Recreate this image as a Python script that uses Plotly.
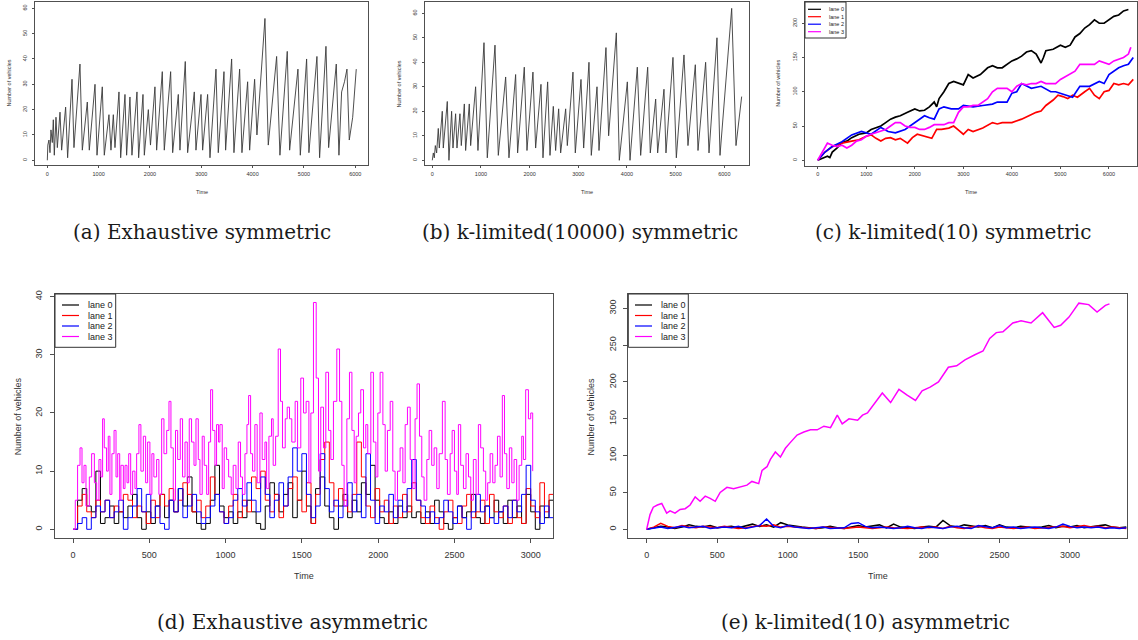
import plotly.graph_objects as go

# ---------------- data ----------------
# (a) Exhaustive symmetric : single series (time, number of vehicles)
A_TIME = [0, 10, 32, 52, 71, 97, 117, 136, 169, 195, 247, 279, 357, 396, 481, 519, 636, 682, 779, 818,
          929, 968, 1071, 1110, 1201, 1240, 1286, 1318, 1396, 1429, 1513, 1545, 1610, 1649, 1747, 1779,
          1864, 1890, 1968, 2010, 2097, 2130, 2240, 2279, 2403, 2442, 2552, 2584, 2688, 2734, 2864, 2896,
          2994, 3026, 3123, 3169, 3286, 3331, 3442, 3474, 3591, 3636, 3747, 3792, 3903, 3942, 4039, 4084,
          4240, 4305, 4468, 4532, 4675, 4721, 4883, 4929, 5052, 5097, 5253, 5305, 5429, 5481, 5630, 5682,
          5734, 5790, 5838, 5883, 5950, 6019]
A_VEH = [0, 6, 8, 3, 12, 7, 16, 2, 17, 5, 19, 4, 21, 1, 32, 5, 38, 4, 23, 4,
         30, 2, 29, 2, 18, 4, 18, 5, 27, 1, 26, 2, 25, 2, 27, 1,
         26, 2, 20, 6, 29, 4, 35, 4, 35, 3, 26, 4, 39, 3, 27, 4,
         26, 4, 26, 1, 36, 3, 35, 4, 40, 3, 36, 3, 31, 4, 32, 10,
         56, 6, 41, 2, 43, 4, 36, 2, 40, 3, 41, 1, 45, 5, 38, 2,
         27, 31, 36, 8, 17, 36]

# (b) k-limited(10000) symmetric
B_TIME = [0, 21, 41, 62, 89, 123, 144, 205, 226, 308, 342, 397, 425, 479, 507, 568, 596, 658, 685, 760,
          788, 890, 938, 1062, 1130, 1288, 1356, 1507, 1575, 1712, 1753, 1890, 1945, 2068, 2123, 2233,
          2274, 2370, 2418, 2486, 2534, 2596, 2637, 2740, 2774, 2890, 2938, 3055, 3110, 3219, 3267, 3384,
          3425, 3568, 3623, 3781, 3842, 4007, 4062, 4212, 4281, 4425, 4479, 4589, 4630, 4760, 4801, 4945,
          5014, 5171, 5253, 5404, 5459, 5616, 5685, 5849, 5911, 6151, 6240, 6356]
B_VEH = [0, 3, 1, 6, 3, 13, 5, 20, 5, 24, 0, 20, 5, 19, 5, 19, 6, 23, 4, 23,
         6, 30, 4, 48, 1, 47, 2, 34, 1, 35, 3, 38, 4, 36, 5, 31,
         1, 32, 2, 22, 4, 21, 3, 21, 6, 36, 3, 33, 5, 40, 2, 30,
         4, 46, 10, 52, 0, 32, 0, 38, 2, 38, 3, 25, 3, 29, 3, 42,
         1, 43, 6, 39, 4, 40, 3, 50, 2, 62, 6, 26]

# (c) k-limited(10) symmetric : four lanes
C_T0 = [0, 100, 200, 250, 300, 400, 500, 600, 700, 850, 1000, 1100, 1200, 1300, 1400, 1500, 1600, 1700,
        1850, 2000, 2100, 2200, 2300, 2400, 2450, 2500, 2600, 2700, 2800, 2900, 3000, 3100, 3200, 3350,
        3500, 3600, 3700, 3800, 3900, 4000, 4100, 4200, 4300, 4400, 4500, 4600, 4650, 4700, 4850, 5000,
        5100, 5200, 5300, 5400, 5500, 5600, 5700, 5800, 5900, 6000, 6100, 6200, 6300, 6400]
C_V0 = [0, 3, 6, 4, 12, 18, 26, 28, 33, 38, 40, 45, 48, 50, 55, 60, 63, 65,
        70, 75, 72, 73, 78, 85, 78, 90, 100, 112, 115, 112, 110, 125, 120, 125,
        135, 138, 135, 135, 140, 145, 148, 152, 158, 160, 155, 142, 150, 160, 162, 168,
        165, 168, 180, 185, 193, 198, 205, 200, 200, 205, 210, 212, 218, 220]
C_T1 = [0, 150, 300, 500, 700, 850, 1000, 1100, 1200, 1300, 1400, 1500, 1600, 1700, 1850, 1950, 2050,
        2200, 2350, 2450, 2550, 2700, 2800, 2900, 3000, 3100, 3200, 3400, 3600, 3700, 3800, 4000, 4200,
        4350, 4500, 4600, 4700, 4850, 4950, 5050, 5150, 5250, 5350, 5500, 5600, 5700, 5800, 5900, 6000,
        6100, 6200, 6300, 6400, 6500]
C_V1 = [0, 12, 20, 25, 28, 30, 35, 37, 32, 28, 32, 33, 30, 32, 25, 33, 38,
        35, 32, 45, 45, 47, 50, 44, 38, 45, 42, 47, 55, 53, 55, 55, 60,
        65, 70, 72, 80, 88, 95, 93, 90, 95, 92, 100, 105, 95, 90, 100, 102,
        112, 110, 112, 110, 118]
C_T2 = [0, 150, 300, 500, 700, 900, 1100, 1300, 1450, 1600, 1800, 2000, 2100, 2200, 2300, 2400, 2500,
        2600, 2750, 2900, 3000, 3200, 3400, 3600, 3700, 3900, 4000, 4100, 4200, 4300, 4400, 4600, 4800,
        4900, 5000, 5100, 5250, 5400, 5600, 5800, 5900, 6000, 6100, 6200, 6300, 6400, 6500]
C_V2 = [0, 12, 20, 27, 37, 42, 38, 48, 42, 40, 45, 55, 60, 65, 62, 60, 75,
        78, 75, 75, 80, 78, 80, 82, 85, 85, 98, 100, 112, 108, 105, 108, 100,
        100, 98, 95, 92, 108, 108, 115, 112, 125, 130, 135, 138, 140, 150]
C_T3 = [0, 100, 200, 300, 400, 500, 600, 700, 800, 900, 1000, 1100, 1200, 1300, 1400, 1500, 1600, 1700,
        1800, 1900, 2000, 2100, 2200, 2300, 2400, 2500, 2600, 2700, 2800, 2900, 3000, 3100, 3200, 3300,
        3400, 3500, 3600, 3700, 3800, 3900, 4000, 4100, 4200, 4300, 4400, 4500, 4600, 4700, 4800, 4900,
        5000, 5100, 5200, 5300, 5400, 5500, 5600, 5700, 5800, 5900, 6000, 6100, 6200, 6300, 6400, 6450]
C_V3 = [0, 12, 25, 22, 20, 22, 18, 22, 28, 30, 35, 38, 40, 43, 45, 50, 55, 55,
        50, 48, 48, 45, 45, 48, 52, 52, 52, 55, 55, 70, 78, 78, 80, 80,
        85, 90, 100, 105, 105, 105, 100, 108, 112, 110, 112, 112, 115, 112, 112, 112,
        118, 122, 125, 130, 140, 140, 140, 140, 145, 142, 140, 145, 148, 150, 155, 165]

# (d) Exhaustive asymmetric : lanes 0-2 sampled every 30 time units, lane 3 at its turning points
D_GRID = list(range(0, 3151, 30))
D_V0 = [0, 5, 7, 4, 3, 10, 1, 2, 4, 1, 3, 2, 4, 6, 2, 0, 3, 1, 4, 6,
        2, 5, 3, 7, 4, 9, 3, 1, 0, 1, 5, 11, 4, 2, 3, 1, 3, 2, 5, 3,
        1, 0, 4, 8, 6, 3, 6, 8, 2, 5, 10, 4, 1, 7, 9, 4, 2, 0, 4, 6,
        2, 5, 3, 8, 6, 11, 5, 2, 1, 3, 1, 4, 2, 4, 2, 3, 1, 3, 1, 5,
        3, 1, 0, 2, 4, 2, 3, 6, 2, 1, 4, 2, 5, 3, 1, 5, 2, 4, 1, 6,
        3, 0, 4, 2, 5, 3]
D_V1 = [0, 4, 6, 3, 2, 5, 3, 5, 2, 4, 3, 6, 5, 2, 4, 3, 1, 5, 2, 6,
        4, 7, 3, 5, 8, 6, 3, 5, 2, 4, 9, 6, 3, 1, 4, 6, 2, 5, 3, 9,
        7, 10, 5, 3, 6, 2, 4, 7, 9, 5, 3, 8, 1, 6, 12, 15, 8, 4, 7, 5,
        3, 6, 15, 9, 4, 2, 7, 3, 5, 1, 4, 2, 6, 3, 8, 5, 2, 1, 4, 2,
        0, 3, 5, 2, 1, 4, 6, 2, 3, 5, 1, 6, 3, 2, 4, 1, 5, 2, 1, 7,
        4, 2, 8, 3, 6, 5]
D_V2 = [0, 1, 2, 0, 2, 4, 3, 5, 2, 3, 5, 0, 2, 4, 7, 3, 6, 2, 4, 1,
        0, 5, 3, 7, 2, 4, 6, 3, 1, 2, 4, 6, 3, 1, 2, 5, 7, 4, 8, 5,
        3, 9, 6, 2, 5, 8, 4, 9, 14, 10, 13, 6, 2, 4, 13, 7, 3, 5, 2, 4,
        8, 3, 6, 2, 13, 5, 1, 4, 3, 6, 2, 5, 3, 7, 12, 5, 4, 2, 3, 1,
        2, 5, 3, 1, 4, 2, 0, 3, 6, 3, 4, 2, 1, 3, 4, 2, 5, 3, 6, 11,
        5, 3, 1, 4, 2, 0]
D_T3 = [0, 15, 30, 46, 59, 72, 85, 107, 122, 140, 155, 170, 183, 194, 205, 220, 231, 242, 255, 269,
        282, 293, 306, 314, 330, 341, 354, 365, 378, 391, 406, 417, 432, 445, 461, 476, 489, 504, 517, 530,
        548, 563, 581, 596, 614, 629, 642, 657, 672, 686, 703, 718, 734, 749, 762, 777, 793, 806, 821, 832,
        847, 860, 876, 889, 902, 915, 930, 941, 954, 963, 978, 991, 1007, 1020, 1037, 1050, 1068, 1083, 1098, 1111,
        1127, 1140, 1151, 1164, 1177, 1192, 1207, 1225, 1240, 1258, 1269, 1284, 1301, 1312, 1328, 1345, 1360, 1373, 1391, 1404,
        1419, 1434, 1456, 1472, 1493, 1511, 1528, 1546, 1559, 1576, 1594, 1609, 1624, 1642, 1657, 1675, 1690, 1707, 1729, 1747,
        1762, 1777, 1795, 1812, 1828, 1843, 1856, 1871, 1886, 1904, 1919, 1932, 1952, 1969, 1985, 1998, 2013, 2031, 2046, 2061,
        2079, 2096, 2111, 2127, 2144, 2162, 2177, 2192, 2210, 2227, 2242, 2255, 2271, 2286, 2301, 2319, 2334, 2351, 2367, 2384,
        2400, 2421, 2439, 2454, 2472, 2485, 2500, 2515, 2526, 2541, 2559, 2576, 2592, 2607, 2624, 2642, 2657, 2672, 2690, 2705,
        2718, 2734, 2751, 2766, 2782, 2799, 2814, 2828, 2843, 2860, 2876, 2891, 2908, 2924, 2941, 2952, 2967, 2985, 3000, 3013]
D_V3 = [0, 5, 11, 14, 8, 11, 4, 9, 13, 8, 5, 12, 9, 19, 14, 10, 16, 6, 13, 17,
        9, 13, 5, 11, 7, 11, 8, 13, 6, 10, 7, 13, 18, 10, 16, 8, 15, 6, 13, 9,
        12, 6, 19, 13, 17, 22, 14, 5, 17, 12, 19, 9, 15, 8, 19, 15, 11, 19, 12, 6,
        16, 11, 6, 15, 24, 17, 11, 18, 15, 18, 7, 14, 12, 9, 6, 11, 7, 15, 9, 6,
        13, 18, 23, 13, 10, 18, 8, 20, 12, 15, 7, 16, 19, 11, 16, 31, 22, 14, 19, 21,
        19, 15, 22, 14, 26, 20, 22, 8, 20, 39, 26, 10, 21, 14, 27, 17, 12, 22, 31, 22,
        11, 4, 19, 27, 17, 8, 16, 20, 24, 14, 18, 13, 27, 15, 9, 20, 27, 18, 10, 17,
        22, 10, 5, 10, 14, 8, 18, 21, 12, 7, 19, 25, 16, 9, 5, 12, 17, 11, 14, 7,
        13, 22, 12, 6, 13, 17, 10, 6, 18, 11, 7, 13, 9, 5, 12, 6, 18, 14, 10, 5,
        8, 13, 8, 11, 16, 9, 23, 13, 7, 14, 8, 12, 5, 11, 16, 12, 24, 19, 20, 10]

# (e) k-limited(10) asymmetric
E_GRID = list(range(0, 3401, 50))
E_V0 = [0, 2, 4, 3, 1, 3, 6, 4, 3, 5, 2, 3, 4, 2, 5, 7, 4, 6, 3, 9,
        6, 4, 3, 2, 1, 2, 4, 2, 1, 3, 5, 3, 4, 6, 2, 7, 3, 2, 1, 3,
        4, 3, 12, 5, 3, 6, 4, 3, 5, 2, 6, 3, 2, 4, 3, 2, 3, 5, 2, 4,
        3, 5, 2, 3, 5, 6, 3, 2, 3]
E_V1 = [0, 3, 8, 4, 2, 5, 3, 2, 4, 3, 2, 4, 3, 1, 2, 3, 5, 4, 6, 3,
        4, 3, 2, 2, 1, 3, 2, 1, 1, 2, 3, 2, 1, 2, 3, 2, 1, 1, 2, 3,
        2, 3, 1, 4, 2, 1, 3, 4, 2, 1, 3, 2, 1, 2, 3, 1, 2, 2, 3, 4,
        2, 3, 5, 3, 4, 2, 3, 2, 1]
E_V2 = [0, 2, 3, 1, 2, 4, 2, 3, 4, 1, 2, 3, 2, 4, 1, 3, 5, 14, 4, 2,
        5, 3, 2, 1, 2, 3, 1, 2, 2, 8, 9, 4, 2, 3, 2, 1, 2, 4, 2, 1,
        3, 2, 1, 3, 4, 2, 1, 5, 3, 2, 5, 2, 3, 1, 2, 3, 2, 1, 3, 7,
        4, 2, 3, 2, 3, 1, 2, 1, 2]
E_T3 = [0, 24, 47, 76, 107, 142, 166, 201, 237, 273, 308, 344, 379, 415, 450, 486, 521, 569, 616, 664,
        711, 746, 794, 818, 853, 877, 912, 948, 983, 1019, 1066, 1114, 1161, 1209, 1256, 1303, 1351, 1386,
        1434, 1495, 1530, 1565, 1612, 1670, 1729, 1788, 1846, 1905, 1952, 2009, 2068, 2138, 2197, 2256,
        2326, 2384, 2431, 2478, 2525, 2595, 2653, 2724, 2806, 2852, 2888, 2934, 2993, 3063, 3133, 3192,
        3251, 3280]
E_V3 = [0, 20, 30, 33, 35, 22, 25, 22, 27, 28, 33, 44, 38, 45, 42, 38, 50, 57, 55, 58,
        60, 65, 62, 80, 85, 95, 105, 98, 110, 118, 128, 132, 135, 135, 140, 138, 155, 143,
        150, 148, 155, 158, 170, 185, 172, 190, 182, 175, 188, 193, 200, 220, 222, 230,
        237, 242, 259, 267, 268, 280, 283, 280, 294, 282, 274, 277, 288, 307, 305, 295,
        304, 306]

LANE_NAMES = ["lane 0", "lane 1", "lane 2", "lane 3"]
CAPTIONS = ["(a) Exhaustive symmetric", "(b) k-limited(10000) symmetric", "(c) k-limited(10) symmetric",
            "(d) Exhaustive asymmetric", "(e) k-limited(10) asymmetric"]
X_TICKS_6000 = [0, 1000, 2000, 3000, 4000, 5000, 6000]
X_TICKS_3000 = [0, 500, 1000, 1500, 2000, 2500, 3000]
Y_TICKS_60 = [0, 10, 20, 30, 40, 50, 60]
Y_TICKS_200 = [0, 50, 100, 150, 200]
Y_TICKS_40 = [0, 10, 20, 30, 40]
Y_TICKS_300 = [0, 50, 100, 150, 200, 250, 300]

# ---------------- styling / layout ----------------
W, H = 1138, 640
LANE_COLORS = ["#000000", "#ff0000", "#0000ff", "#ff00ff"]
SANS = "Liberation Sans, Arial, sans-serif"
SERIF = "DejaVu Serif, serif"
FRAME = "#505050"


def fx(p):
    return p / W


def fy(p):
    return 1 - p / H


# frame in pixels (left, top, right, bottom), ranges, ticks, font size, tick length
PANELS = [
    dict(frame=(35, 2, 368, 165), xr=[-240, 6248], yr=[-1.86, 62.5], xt=X_TICKS_6000, yt=Y_TICKS_60, fs=5.5, tl=2),
    dict(frame=(425, 2, 749.3, 165), xr=[-150, 6513], yr=[-1.92, 64.6], xt=X_TICKS_6000, yt=Y_TICKS_60, fs=5.5, tl=2),
    dict(frame=(805, 2, 1137, 165.7), xr=[-262, 6577], yr=[-7.9, 231], xt=X_TICKS_6000, yt=Y_TICKS_200, fs=5.5, tl=2),
    dict(frame=(55, 294, 553.3, 538.3), xr=[-118, 3148], yr=[-1.55, 40.46], xt=X_TICKS_3000, yt=Y_TICKS_40, fs=9, tl=4),
    dict(frame=(628.3, 294, 1126.7, 538.3), xr=[-130, 3402], yr=[-12.2, 319.4], xt=X_TICKS_3000, yt=Y_TICKS_300, fs=9, tl=4),
]

fig = go.Figure()


def add_line(i, x, y, color, width, shape="linear", name=None):
    sfx = "" if i == 0 else str(i + 1)
    fig.add_trace(go.Scatter(x=x, y=y, mode="lines", name=name, showlegend=False,
                             line=dict(color=color, width=width, shape=shape),
                             xaxis="x" + sfx, yaxis="y" + sfx, hoverinfo="skip"))


add_line(0, A_TIME, A_VEH, "#3a3a3a", 0.9)
add_line(1, B_TIME, B_VEH, "#3a3a3a", 0.9)
for (t, v), c, n in zip([(C_T0, C_V0), (C_T1, C_V1), (C_T2, C_V2), (C_T3, C_V3)], LANE_COLORS, LANE_NAMES):
    add_line(2, t, v, c, 1.7, name=n)
for (t, v), c, n in zip([(D_GRID, D_V0), (D_GRID, D_V1), (D_GRID, D_V2), (D_T3, D_V3)], LANE_COLORS, LANE_NAMES):
    add_line(3, t, v, c, 1.0, shape="hv", name=n)
for (t, v), c, n in zip([(E_GRID, E_V0), (E_GRID, E_V1), (E_GRID, E_V2), (E_T3, E_V3)], LANE_COLORS, LANE_NAMES):
    add_line(4, t, v, c, 1.5, name=n)

layout = dict(width=W, height=H, margin=dict(l=0, r=0, t=0, b=0, autoexpand=False), autosize=False,
              paper_bgcolor="white", plot_bgcolor="white", showlegend=False, template="none")
annotations = []
shapes = []

for i, p in enumerate(PANELS):
    l, t, r, b = p["frame"]
    sfx = "" if i == 0 else str(i + 1)
    font = dict(family=SANS, size=p["fs"], color="#333333")
    common = dict(showline=True, mirror=True, linecolor=FRAME, linewidth=1, showgrid=False,
                  zeroline=False, ticks="outside", ticklen=p["tl"], tickwidth=1, tickcolor=FRAME,
                  tickfont=font, fixedrange=True, automargin=False)
    layout["xaxis" + sfx] = dict(domain=[fx(l), fx(r)], range=p["xr"], anchor="y" + sfx,
                                 tickmode="array", tickvals=p["xt"], ticklabelstandoff=1 if i < 3 else 4,
                                 **common)
    layout["yaxis" + sfx] = dict(domain=[fy(b), fy(t)], range=p["yr"], anchor="x" + sfx,
                                 tickmode="array", tickvals=p["yt"], tickangle=-90,
                                 ticklabelstandoff=3 if i < 3 else 4, **common)
    # axis titles
    small = i < 3
    annotations.append(dict(text="Time", xref="paper", yref="paper", x=fx((l + r) / 2),
                            y=fy(192 if small else 576), showarrow=False,
                            font=dict(family=SANS, size=p["fs"], color="#333333"),
                            xanchor="center", yanchor="middle"))
    annotations.append(dict(text="Number of vehicles", xref="paper", yref="paper",
                            x=fx(l - (27 if small else 37)), y=fy((t + b) / 2), showarrow=False, textangle=-90,
                            font=dict(family=SANS, size=p["fs"], color="#333333"),
                            xanchor="center", yanchor="middle"))

# captions
CAP_POS = [(202, 232), (580, 232), (953, 232), (293, 622), (866, 622)]
for txt, (cx, cy) in zip(CAPTIONS, CAP_POS):
    annotations.append(dict(text=txt, xref="paper", yref="paper", x=fx(cx), y=fy(cy), showarrow=False,
                            font=dict(family=SERIF, size=20, color="#1a1a1a"),
                            xanchor="center", yanchor="middle"))

# hand-drawn R-style legends (box, line samples, labels)
LEGENDS = [
    dict(box=(805, 2, 846, 38), lx=(808, 821), tx=826.5, rows=[9.3, 16.7, 24.2, 31.7], fs=5.5),
    dict(box=(55, 294, 115.7, 347.3), lx=(62, 79), tx=86, rows=[305, 315.5, 326, 336.5], fs=9),
    dict(box=(628.3, 294, 688.3, 347.3), lx=(635, 652), tx=659, rows=[305, 315.5, 326, 336.5], fs=9),
]
for lg in LEGENDS:
    x0, y0, x1, y1 = lg["box"]
    shapes.append(dict(type="rect", xref="paper", yref="paper", x0=fx(x0), x1=fx(x1), y0=fy(y1), y1=fy(y0),
                       line=dict(color="#333333", width=1), fillcolor="white", layer="above"))
    for name, color, ry in zip(LANE_NAMES, LANE_COLORS, lg["rows"]):
        shapes.append(dict(type="line", xref="paper", yref="paper", x0=fx(lg["lx"][0]), x1=fx(lg["lx"][1]),
                           y0=fy(ry), y1=fy(ry), line=dict(color=color, width=1.2), layer="above"))
        annotations.append(dict(text=name, xref="paper", yref="paper", x=fx(lg["tx"]), y=fy(ry),
                                showarrow=False, xanchor="left", yanchor="middle",
                                font=dict(family=SANS, size=lg["fs"], color="#222222")))

layout["annotations"] = annotations
layout["shapes"] = shapes
fig.update_layout(**layout)
fig.write_html("out.html", config={"displayModeBar": False, "staticPlot": True},
               post_script="document.body.style.margin='0px';document.body.style.overflow='hidden';")
